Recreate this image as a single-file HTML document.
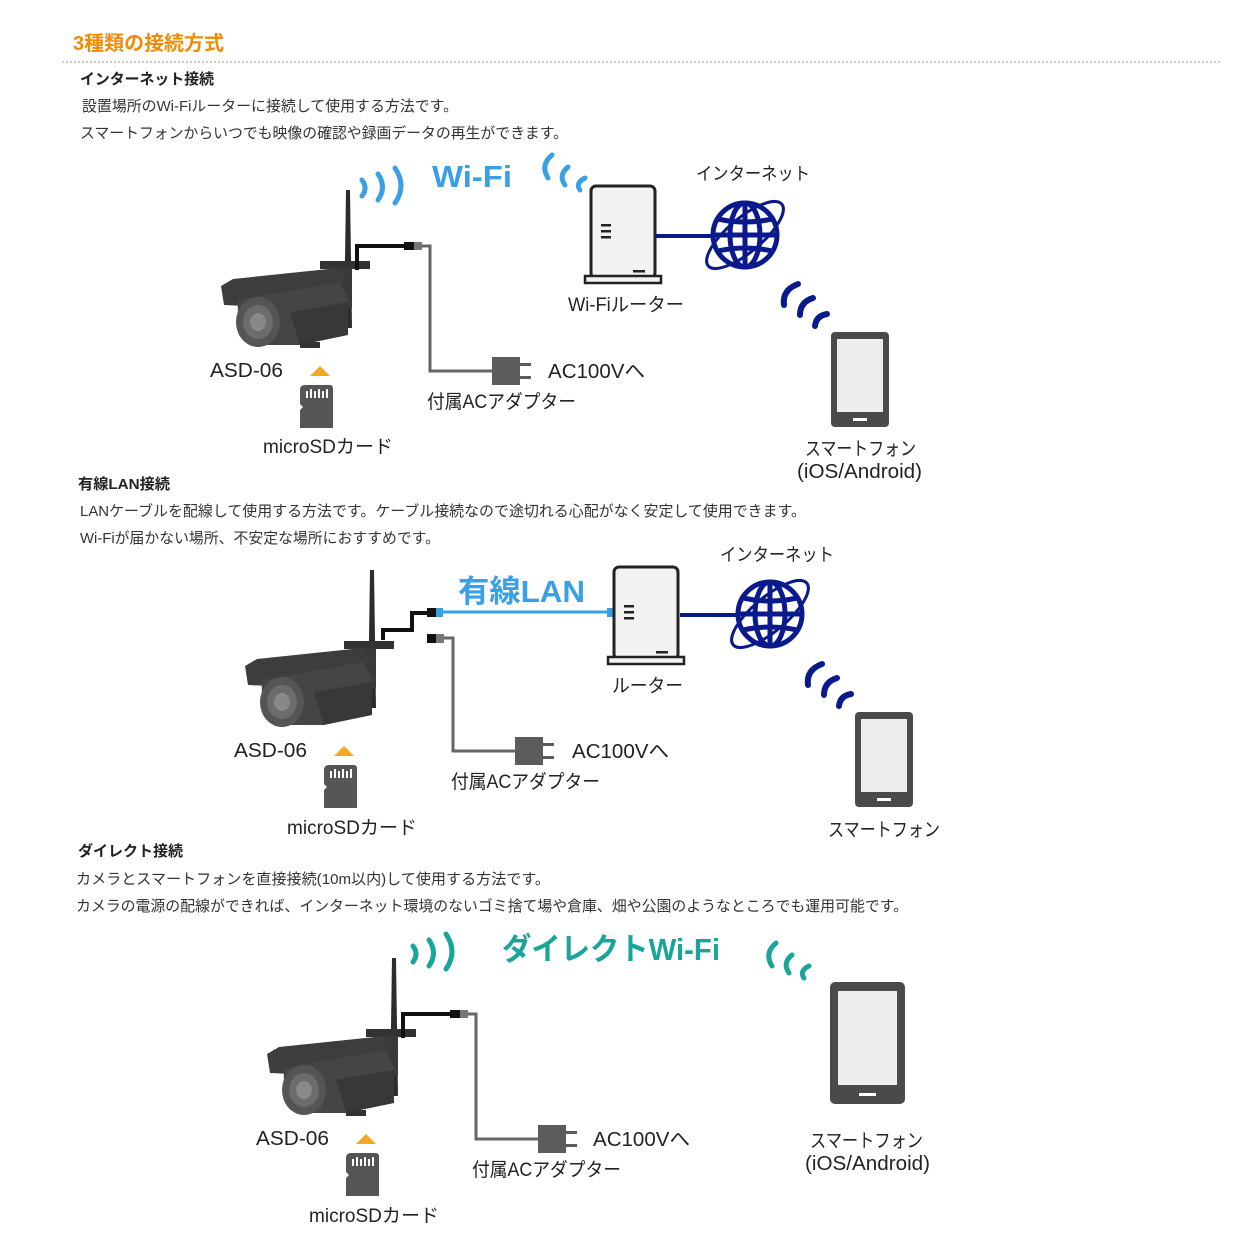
<!DOCTYPE html>
<html><head><meta charset="utf-8"><style>
html,body{margin:0;padding:0;background:#fff;}
svg{display:block;}
text{font-family:"Liberation Sans","Noto Sans CJK JP",sans-serif;}
</style></head><body>
<svg width="1247" height="1247" viewBox="0 0 1247 1247" xmlns="http://www.w3.org/2000/svg">
<defs>
<g id="cam">
  <path d="M346,190 L350,190 L352,328 L344,328 Z" fill="#2c2c2c"/>
  <rect x="320" y="261" width="50" height="8" fill="#333"/>
  <rect x="330" y="268" width="22" height="40" fill="#3a3a3a"/>
  <path d="M221,286 L233,279 L338,268 L348,282 L246,306 L224,305 Z" fill="#3d3d3d"/>
  <path d="M238,300 L340,282 L348,300 L348,330 L300,345 L250,345 Q236,330 238,300 Z" fill="#454545"/>
  <path d="M290,312 L348,302 L348,335 L300,345 Z" fill="#383838"/>
  <ellipse cx="258" cy="322" rx="22" ry="25" fill="#555"/>
  <ellipse cx="258" cy="322" rx="15" ry="17" fill="#6c6c6c"/>
  <ellipse cx="258" cy="322" rx="8" ry="9" fill="#888"/>
  <rect x="300" y="342" width="20" height="6" fill="#333"/>
  <polyline points="357,270 357,246 406,246" fill="none" stroke="#111" stroke-width="4"/>
</g>
<g id="sd">
  <path d="M300,390 Q300,385 305,385 L330,385 Q333,385 333,389 L333,428 L300,428 L300,410 L303,407 L300,404 Z" fill="#555"/>
  <rect x="306" y="391" width="2" height="7" fill="#fff"/><rect x="310" y="389" width="2" height="9" fill="#fff"/>
  <rect x="314" y="391" width="2" height="7" fill="#fff"/><rect x="318" y="389" width="2" height="9" fill="#fff"/>
  <rect x="322" y="391" width="2" height="7" fill="#fff"/><rect x="326" y="389" width="2" height="9" fill="#fff"/>
  <path d="M310,376 L320,366 L330,376 Z" fill="#f5a623"/>
</g>
<g id="adp">
  <rect x="0" y="0" width="28" height="28" fill="#5c5c5c"/>
  <rect x="28" y="6" width="11" height="3" fill="#5c5c5c"/>
  <rect x="28" y="19" width="11" height="3" fill="#5c5c5c"/>
</g>
<g id="router">
  <rect x="2" y="0" width="64" height="92" rx="5" fill="#f2f2f2" stroke="#222" stroke-width="3"/>
  <rect x="-4" y="90" width="76" height="7" fill="#f2f2f2" stroke="#222" stroke-width="2.5"/>
  <rect x="12" y="38" width="10" height="2.5" fill="#222"/><rect x="12" y="44" width="10" height="2.5" fill="#222"/><rect x="12" y="50" width="10" height="2.5" fill="#222"/>
  <rect x="44" y="84" width="12" height="2.5" fill="#222"/>
</g>
<g id="globe">
  <circle cx="0" cy="0" r="32" fill="#fff" stroke="#0a1a8c" stroke-width="5"/>
  <ellipse cx="0" cy="0" rx="15" ry="32" fill="none" stroke="#0a1a8c" stroke-width="5"/>
  <line x1="0" y1="-32" x2="0" y2="32" stroke="#0a1a8c" stroke-width="5"/>
  <line x1="-32" y1="0" x2="32" y2="0" stroke="#0a1a8c" stroke-width="5"/>
  <path d="M-27,-16 Q0,-10 27,-16 M-27,16 Q0,10 27,16" fill="none" stroke="#0a1a8c" stroke-width="5"/>
  <ellipse cx="0" cy="0" rx="48" ry="17" fill="none" stroke="#0a1a8c" stroke-width="3" transform="rotate(-40)"/>
</g>
<g id="phone">
  <rect x="0" y="0" width="58" height="95" rx="4" fill="#4a4a4a"/>
  <rect x="6" y="7" width="46" height="73" fill="#eee"/>
  <rect x="22" y="86" width="14" height="3" fill="#fff"/>
</g>
</defs>

<text x="73" y="50" font-size="20" font-weight="bold" fill="#f08c00" textLength="151" lengthAdjust="spacingAndGlyphs">3種類の接続方式</text>
<line x1="62" y1="62" x2="1220" y2="62" stroke="#bbb" stroke-width="1.5" stroke-dasharray="2,2"/>

<text x="80" y="84" font-size="15" font-weight="bold" fill="#222" textLength="134" lengthAdjust="spacingAndGlyphs">インターネット接続</text>
<text x="82" y="111" font-size="15" fill="#333" textLength="376" lengthAdjust="spacingAndGlyphs">設置場所のWi-Fiルーターに接続して使用する方法です。</text>
<text x="80" y="138" font-size="15" fill="#333" textLength="488" lengthAdjust="spacingAndGlyphs">スマートフォンからいつでも映像の確認や録画データの再生ができます。</text>

<!-- Section 1 -->
<use href="#cam"/>
<rect x="404" y="242" width="10" height="8" fill="#111"/><rect x="414" y="242" width="8" height="8" fill="#777"/>
<polyline points="422,246 430,246 430,371 492,371" fill="none" stroke="#666" stroke-width="3"/>
<use href="#adp" transform="translate(492,357)"/>
<use href="#sd"/>
<text x="210" y="377" font-size="20" fill="#222" textLength="73" lengthAdjust="spacingAndGlyphs">ASD-06</text>
<text x="263" y="453" font-size="19" fill="#222" textLength="130" lengthAdjust="spacingAndGlyphs">microSDカード</text>
<text x="427" y="408" font-size="19" fill="#222" textLength="149" lengthAdjust="spacingAndGlyphs">付属ACアダプター</text>
<text x="548" y="378" font-size="20" fill="#222" textLength="97" lengthAdjust="spacingAndGlyphs">AC100Vへ</text>
<g fill="none" stroke="#3aa0e6" stroke-width="5" stroke-linecap="round">
  <path d="M362,180 Q368,188 362,196"/><path d="M378,174 Q387,187 378,200"/><path d="M395,168 Q407,186 395,203"/>
  <path d="M548,178 Q540,165 552,155"/><path d="M565,185 Q558,175 568,167"/><path d="M580,190 Q575,183 585,178"/>
</g>
<text x="432" y="187" font-size="31" font-weight="bold" fill="#3aa0e6" textLength="80" lengthAdjust="spacingAndGlyphs">Wi-Fi</text>
<use href="#router" transform="translate(589,186)"/>
<text x="568" y="311" font-size="19" fill="#222" textLength="116" lengthAdjust="spacingAndGlyphs">Wi-Fiルーター</text>
<line x1="656" y1="236" x2="712" y2="236" stroke="#0a1a8c" stroke-width="4"/>
<use href="#globe" transform="translate(745,235)"/>
<text x="696" y="180" font-size="18" fill="#222" textLength="114" lengthAdjust="spacingAndGlyphs">インターネット</text>
<g fill="none" stroke="#0a1a8c" stroke-width="6" stroke-linecap="round">
  <path d="M784,305 Q782,290 798,284"/><path d="M800,315 Q800,302 813,298"/><path d="M815,326 Q816,316 827,314"/>
</g>
<use href="#phone" transform="translate(831,332)"/>
<text x="805" y="455" font-size="19" fill="#222" textLength="111" lengthAdjust="spacingAndGlyphs">スマートフォン</text>
<text x="797" y="478" font-size="20" fill="#222" textLength="125" lengthAdjust="spacingAndGlyphs">(iOS/Android)</text>

<!-- Section 2 -->
<text x="78" y="489" font-size="15" font-weight="bold" fill="#222" textLength="92" lengthAdjust="spacingAndGlyphs">有線LAN接続</text>
<text x="80" y="516" font-size="15" fill="#333" textLength="726" lengthAdjust="spacingAndGlyphs">LANケーブルを配線して使用する方法です。ケーブル接続なので途切れる心配がなく安定して使用できます。</text>
<text x="80" y="543" font-size="15" fill="#333" textLength="360" lengthAdjust="spacingAndGlyphs">Wi-Fiが届かない場所、不安定な場所におすすめです。</text>
<g transform="translate(24,380)">
  <path d="M346,190 L350,190 L352,328 L344,328 Z" fill="#2c2c2c"/>
  <rect x="320" y="261" width="50" height="8" fill="#333"/>
  <rect x="330" y="268" width="22" height="40" fill="#3a3a3a"/>
  <path d="M221,286 L233,279 L338,268 L348,282 L246,306 L224,305 Z" fill="#3d3d3d"/>
  <path d="M238,300 L340,282 L348,300 L348,330 L300,345 L250,345 Q236,330 238,300 Z" fill="#454545"/>
  <path d="M290,312 L348,302 L348,335 L300,345 Z" fill="#383838"/>
  <ellipse cx="258" cy="322" rx="22" ry="25" fill="#555"/>
  <ellipse cx="258" cy="322" rx="15" ry="17" fill="#6c6c6c"/>
  <ellipse cx="258" cy="322" rx="8" ry="9" fill="#888"/>
  <use href="#sd"/>
</g>
<polyline points="383,640 383,630 412,630 412,613 428,613 M412,630 412,638 428,638" fill="none" stroke="#111" stroke-width="4"/>
<rect x="427" y="608" width="9" height="9" fill="#111"/><rect x="436" y="608" width="7" height="9" fill="#3aa0e6"/>
<line x1="443" y1="612" x2="614" y2="612" stroke="#3aa0e6" stroke-width="3"/>
<rect x="607" y="608" width="7" height="9" fill="#3aa0e6"/>
<rect x="427" y="634" width="9" height="9" fill="#111"/><rect x="436" y="634" width="8" height="9" fill="#777"/>
<polyline points="444,638 453,638 453,751 515,751" fill="none" stroke="#666" stroke-width="3"/>
<use href="#adp" transform="translate(515,737)"/>
<text x="234" y="757" font-size="20" fill="#222" textLength="73" lengthAdjust="spacingAndGlyphs">ASD-06</text>
<text x="287" y="834" font-size="19" fill="#222" textLength="130" lengthAdjust="spacingAndGlyphs">microSDカード</text>
<text x="451" y="788" font-size="19" fill="#222" textLength="149" lengthAdjust="spacingAndGlyphs">付属ACアダプター</text>
<text x="572" y="758" font-size="20" fill="#222" textLength="97" lengthAdjust="spacingAndGlyphs">AC100Vへ</text>
<text x="458" y="602" font-size="31" font-weight="bold" fill="#3aa0e6" textLength="127" lengthAdjust="spacingAndGlyphs">有線LAN</text>
<use href="#router" transform="translate(612,567)"/>
<text x="612" y="692" font-size="19" fill="#222" textLength="71" lengthAdjust="spacingAndGlyphs">ルーター</text>
<line x1="680" y1="615" x2="740" y2="615" stroke="#0a1a8c" stroke-width="4"/>
<use href="#globe" transform="translate(770,614)"/>
<text x="720" y="561" font-size="18" fill="#222" textLength="114" lengthAdjust="spacingAndGlyphs">インターネット</text>
<g fill="none" stroke="#0a1a8c" stroke-width="6" stroke-linecap="round">
  <path d="M808,685 Q806,670 822,664"/><path d="M824,695 Q824,682 837,678"/><path d="M839,706 Q840,696 851,694"/>
</g>
<use href="#phone" transform="translate(855,712)"/>
<text x="828" y="836" font-size="19" fill="#222" textLength="112" lengthAdjust="spacingAndGlyphs">スマートフォン</text>

<!-- Section 3 -->
<text x="78" y="856" font-size="15" font-weight="bold" fill="#222" textLength="105" lengthAdjust="spacingAndGlyphs">ダイレクト接続</text>
<text x="76" y="884" font-size="15" fill="#333" textLength="474" lengthAdjust="spacingAndGlyphs">カメラとスマートフォンを直接接続(10m以内)して使用する方法です。</text>
<text x="76" y="911" font-size="15" fill="#333" textLength="832" lengthAdjust="spacingAndGlyphs">カメラの電源の配線ができれば、インターネット環境のないゴミ捨て場や倉庫、畑や公園のようなところでも運用可能です。</text>
<g transform="translate(46,768)">
  <use href="#cam"/>
  <rect x="404" y="242" width="10" height="8" fill="#111"/><rect x="414" y="242" width="8" height="8" fill="#777"/>
  <polyline points="422,246 430,246 430,371 492,371" fill="none" stroke="#666" stroke-width="3"/>
  <use href="#adp" transform="translate(492,357)"/>
  <use href="#sd"/>
</g>
<text x="256" y="1145" font-size="20" fill="#222" textLength="73" lengthAdjust="spacingAndGlyphs">ASD-06</text>
<text x="309" y="1222" font-size="19" fill="#222" textLength="130" lengthAdjust="spacingAndGlyphs">microSDカード</text>
<text x="472" y="1176" font-size="19" fill="#222" textLength="149" lengthAdjust="spacingAndGlyphs">付属ACアダプター</text>
<text x="593" y="1146" font-size="20" fill="#222" textLength="97" lengthAdjust="spacingAndGlyphs">AC100Vへ</text>
<g fill="none" stroke="#1aa59a" stroke-width="5" stroke-linecap="round">
  <path d="M413,946 Q419,954 413,962"/><path d="M429,940 Q438,953 429,966"/><path d="M446,934 Q458,952 446,969"/>
  <path d="M772,966 Q764,953 776,943"/><path d="M789,973 Q782,963 792,955"/><path d="M804,978 Q799,971 809,966"/>
</g>
<text x="502" y="960" font-size="31" font-weight="bold" fill="#1aa59a" textLength="218" lengthAdjust="spacingAndGlyphs">ダイレクトWi-Fi</text>
<g transform="translate(830,982)">
  <rect x="0" y="0" width="75" height="122" rx="5" fill="#4a4a4a"/>
  <rect x="8" y="9" width="59" height="94" fill="#eee"/>
  <rect x="29" y="111" width="17" height="3" fill="#fff"/>
</g>
<text x="810" y="1147" font-size="19" fill="#222" textLength="113" lengthAdjust="spacingAndGlyphs">スマートフォン</text>
<text x="805" y="1170" font-size="20" fill="#222" textLength="125" lengthAdjust="spacingAndGlyphs">(iOS/Android)</text>
</svg>
</body></html>
